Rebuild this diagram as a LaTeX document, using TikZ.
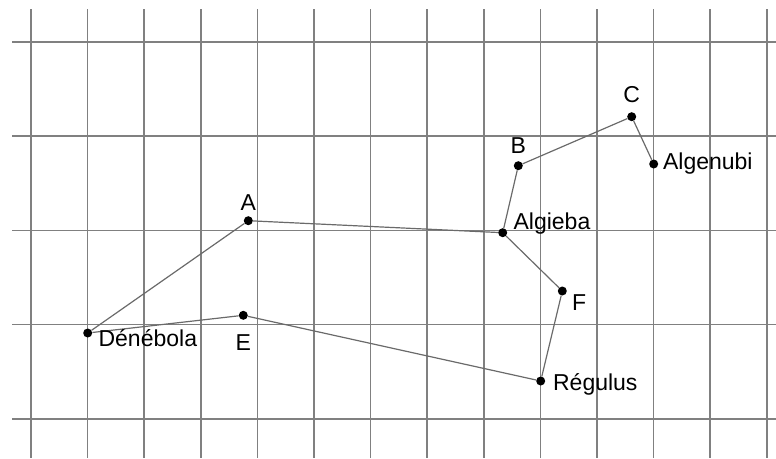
\documentclass[tikz,border=0pt]{standalone}
\usepackage{fontspec}
\setmainfont{Liberation Sans}
\usepackage{tikz}
\usetikzlibrary{positioning}
\definecolor{gridgray}{HTML}{808080}
\definecolor{linkgray}{HTML}{6A6A6A}

\begin{document}
\begin{tikzpicture}[
  x=1pt, y=-1pt,
  gridline/.style={draw=gridgray, line width=1.6pt},
  link/.style={draw=linkgray, line width=1.2pt},
  stardot/.style={circle, fill=black, inner sep=0pt, minimum size=9pt},
  starname/.style={inner sep=0pt, font=\fontsize{23}{27}\selectfont},
]
\useasboundingbox (0,0) rectangle (776,458);

% grid
\foreach \k in {0,...,13}
  \draw[gridline] ({31+56.6*\k},9) -- ({31+56.6*\k},458);
\foreach \k in {0,...,4}
  \draw[gridline] (12,{41.7+94.3*\k}) -- (776,{41.7+94.3*\k});

% stars
\node[stardot] (A) at (248.3,220.7) {};
\node[stardot] (B) at (518.3,165.7) {};
\node[stardot] (C) at (631.7,116.7) {};
\node[stardot] (Algenubi) at (653.7,164) {};
\node[stardot] (Algieba) at (502.7,232.7) {};
\node[stardot] (F) at (562.3,291) {};
\node[stardot] (Regulus) at (540.7,381) {};
\node[stardot] (E) at (243.3,315.3) {};
\node[stardot] (Denebola) at (87.7,333) {};

% links
\draw[link] (Denebola) -- (A);
\draw[link] (A) -- (Algieba);
\draw[link] (Algieba) -- (B);
\draw[link] (B) -- (C);
\draw[link] (C) -- (Algenubi);
\draw[link] (Algieba) -- (F);
\draw[link] (F) -- (Regulus);
\draw[link] (Regulus) -- (E);
\draw[link] (E) -- (Denebola);

% names
\node[starname, above=5.5pt of A] {A};
\node[starname, above=7pt of B] {B};
\node[starname, above=9pt of C] {C};
\node[starname, right=4.5pt of Algenubi] {Algenubi};
\node[starname, right=6pt of Algieba, yshift=9pt] {Algieba};
\node[starname, right=5pt of F, yshift=-11.7pt] {F};
\node[starname, right=7.5pt of Regulus, yshift=-3pt] {Régulus};
\node[starname, below=14.5pt of E] {E};
\node[starname, right=6pt of Denebola, yshift=-5pt] {Dénébola};

\end{tikzpicture}
\end{document}
